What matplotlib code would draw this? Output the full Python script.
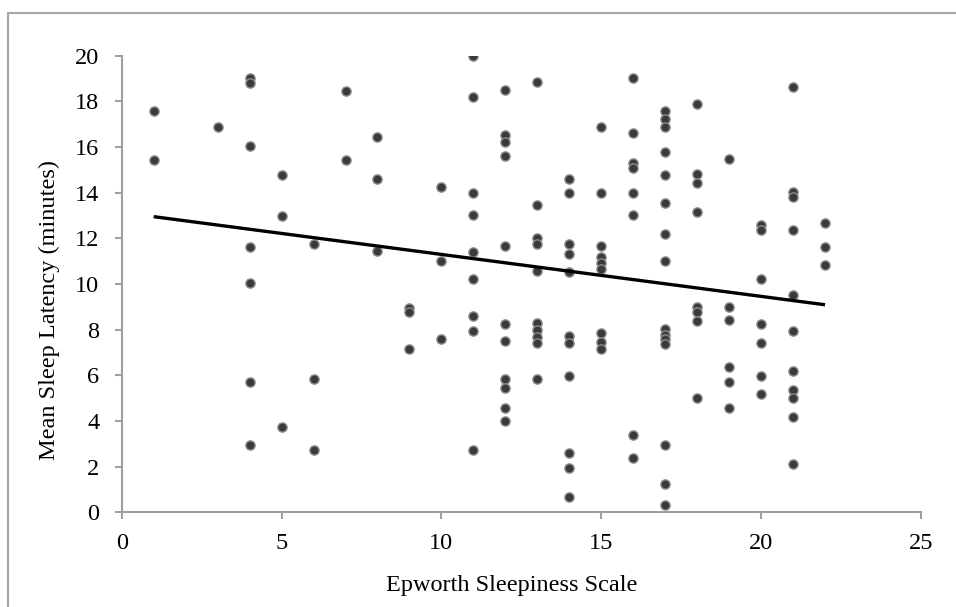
import matplotlib
matplotlib.use("Agg")
import matplotlib.pyplot as plt
from matplotlib.patches import Rectangle
import numpy as np

# Epworth Sleepiness Scale score per subject
esc = ([1]*2 + [3]*1 + [4]*7 + [5]*3 + [6]*3 + [7]*2 + [8]*3 + [9]*3 + [10]*3
       + [11]*9 + [12]*11 + [13]*10 + [14]*11 + [15]*9 + [16]*8 + [17]*15
       + [18]*8 + [19]*6 + [20]*7 + [21]*11 + [22]*3)

# Mean sleep latency (minutes), same order
msl = [
    17.58, 15.43,
    16.86,
    19.04, 18.79, 16.04, 11.63, 10.03, 5.72, 2.93,
    14.79, 12.99, 3.74,
    11.74, 5.82, 2.74,
    18.47, 15.43,
    16.43, 14.61, 11.46,
    8.95, 8.76, 7.15,
    14.26, 11.01, 7.61,
    20.0, 18.2, 13.97, 13.01, 11.40, 10.22, 8.61, 7.95, 2.74,
    18.48, 16.53, 16.23, 15.61, 11.65, 8.25, 7.52, 5.82, 5.46, 4.55, 4.0,
    18.83, 13.45, 12.03, 11.75, 10.57, 8.28, 7.99, 7.69, 7.40, 5.82,
    14.59, 13.97, 11.75, 11.30, 10.51, 7.72, 7.40, 5.98, 2.58, 1.93, 0.68,
    16.86, 13.97, 11.66, 11.20, 10.93, 10.67, 7.84, 7.47, 7.15,
    19.02, 16.60, 15.29, 15.08, 13.97, 13.01, 3.39, 2.39,
    17.59, 17.23, 16.86, 15.78, 14.79, 13.53, 12.19, 11.02, 8.02, 7.77, 7.58, 7.36, 2.93, 1.24, 0.32,
    17.87, 14.81, 14.41, 13.17, 9.01, 8.79, 8.39, 5.01,
    15.46, 9.01, 8.42, 6.35, 5.72, 4.55,
    12.58, 12.37, 10.22, 8.25, 7.42, 5.98, 5.17,
    18.64, 14.04, 13.80, 12.37, 9.52, 7.95, 6.19, 5.36, 4.99, 4.19, 2.12,
    12.66, 11.63, 10.83,
]

# Linear trend line endpoints
trend_x = [1, 22]
trend_y = [12.95, 9.09]

x_ticks = [0, 5, 10, 15, 20, 25]
y_ticks = [0, 2, 4, 6, 8, 10, 12, 14, 16, 18, 20]

plt.rcParams['font.family'] = ['Liberation Serif', 'DejaVu Serif']

W, H = 956, 607
fig = plt.figure(figsize=(W/100, H/100), dpi=100)
fig.patch.set_facecolor('white')
# outer chart-area border (only top and left edges fall inside the image)
fig.patches.append(Rectangle((8/W, -0.2), 1.2, 1.2 - 13/H, transform=fig.transFigure,
                             fill=False, edgecolor='#a6a6a6', linewidth=1.5))

ax = fig.add_axes([121.7/W, (H-512.3)/H, (921-121.7)/W, (512.3-55.7)/H])

ax.scatter(esc, msl, s=44, color='#3a3a3a', edgecolors='#8c8c8c', linewidths=1.0, zorder=3)
ax.plot(trend_x, trend_y, color='black', linewidth=2.4, zorder=4, solid_capstyle='butt')

ax.set_xlim(0, 25)
ax.set_ylim(0, 20)
ax.set_xticks(x_ticks)
ax.set_yticks(y_ticks)
for s in ['top', 'right']:
    ax.spines[s].set_visible(False)
for s in ['left', 'bottom']:
    ax.spines[s].set_color('#a0a0a0')
    ax.spines[s].set_linewidth(1.5)
ax.tick_params(axis='both', direction='out', length=5, width=1.5, color='#a0a0a0',
               labelsize=17.5, labelcolor='black')
ax.tick_params(axis='y', pad=11)
ax.tick_params(axis='x', pad=10)

fig.text(511.5/W, 1 - 591/H, 'Epworth Sleepiness Scale', fontsize=17.5,
         ha='center', va='baseline')
fig.text(55/W, 1 - 310/H, 'Mean Sleep Latency (minutes)', fontsize=17.5,
         ha='center', va='baseline', rotation=90, rotation_mode='anchor')

fig.savefig('out.png', dpi=100, facecolor='white')
